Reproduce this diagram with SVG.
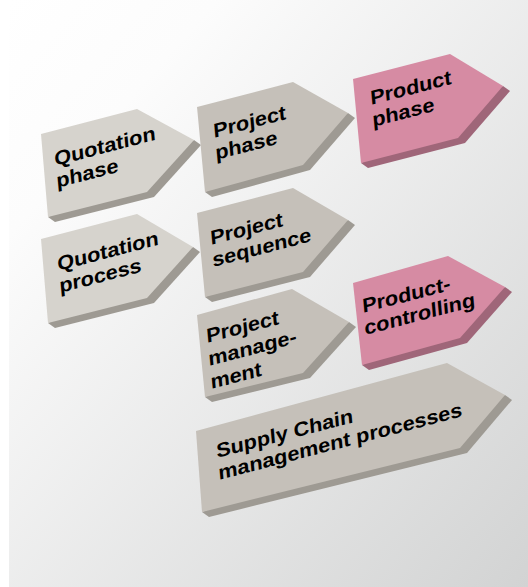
<svg xmlns="http://www.w3.org/2000/svg" width="528" height="587" viewBox="0 0 528 587">
<defs>
<linearGradient id="bg" x1="0" y1="0" x2="1" y2="1">
<stop offset="0" stop-color="#ffffff"/>
<stop offset="0.2" stop-color="#fcfcfc"/>
<stop offset="1" stop-color="#d2d3d3"/>
</linearGradient>
</defs>
<style>
.lt{fill:#d6d3cd}
.gr{fill:#c5c0b9}
.pk{fill:#d68ba3}
.gd{fill:#9e9a93}
.pd{fill:#9f6679}
text{font-family:"Liberation Sans",Arial,sans-serif;font-weight:bold;font-size:20px;fill:#000}
</style>
<rect x="0" y="0" width="528" height="587" fill="#ffffff"/>
<rect x="9" y="0" width="519" height="587" fill="url(#bg)"/>
<g id="connectors"/>
<g id="quotation-phase">
<polygon class="gd" points="194,140 201,145 154,197 55,222 48,217"/>
<polygon class="lt" points="41,134 137,109 194,140 147,192 48,217"/>
<text transform="matrix(1.07,-0.28,0.09,1,55,166)"><tspan x="0" y="0">Quotation</tspan><tspan x="0" y="22">phase</tspan></text>
</g>
<g id="project-phase">
<polygon class="gd" points="348,113 355,118 310,170 212,197 205,192"/>
<polygon class="gr" points="197,107 293,82 348,113 303,165 205,192"/>
<text transform="matrix(1.07,-0.28,0.09,1,214,138)"><tspan x="0" y="0">Project</tspan><tspan x="0" y="22">phase</tspan></text>
</g>
<g id="product-phase">
<polygon class="pd" points="503,86 510,91 465,143 368,168 361,163"/>
<polygon class="pk" points="353,79 450,54 503,86 458,138 361,163"/>
<text transform="matrix(1.07,-0.28,0.09,1,371,105)"><tspan x="0" y="0">Product</tspan><tspan x="0" y="22">phase</tspan></text>
</g>
<g id="quotation-process">
<polygon class="gd" points="193,247 200,252 154,303 55,328 48,323"/>
<polygon class="lt" points="41,239 137,214 193,247 147,298 48,323"/>
<text transform="matrix(1.07,-0.28,0.09,1,58,271)"><tspan x="0" y="0">Quotation</tspan><tspan x="0" y="22">process</tspan></text>
</g>
<g id="project-sequence">
<polygon class="gd" points="348,220 355,225 310,277 212,302 205,297"/>
<polygon class="gr" points="197,213 293,188 348,220 303,272 205,297"/>
<text transform="matrix(1.07,-0.28,0.09,1,211,245)"><tspan x="0" y="0">Project</tspan><tspan x="0" y="22">sequence</tspan></text>
</g>
<g id="project-management">
<polygon class="gd" points="349,322 356,327 310,378 212,402 205,397"/>
<polygon class="gr" points="197,315 292,289 349,322 303,373 205,397"/>
<text transform="matrix(1.07,-0.28,0.09,1,207,343)"><tspan x="0" y="0">Project</tspan><tspan x="0" y="23">manage-</tspan><tspan x="0" y="46">ment</tspan></text>
</g>
<g id="product-controlling">
<polygon class="pd" points="505,287 512,292 467,343 369,370 362,365"/>
<polygon class="pk" points="353,283 448,256 505,287 460,338 362,365"/>
<text transform="matrix(1.07,-0.28,0.09,1,363,313)"><tspan x="0" y="0">Product-</tspan><tspan x="0" y="22">controlling</tspan></text>
</g>
<g id="supply-chain">
<polygon class="gd" points="505,395 512,400 467,453 209,517 202,512"/>
<polygon class="gr" points="196,431 447,363 505,395 460,448 202,512"/>
<text transform="matrix(1.07,-0.28,0.09,1,217,458)"><tspan x="0" y="0">Supply Chain</tspan><tspan x="0" y="22">management processes</tspan></text>
</g>
</svg>
